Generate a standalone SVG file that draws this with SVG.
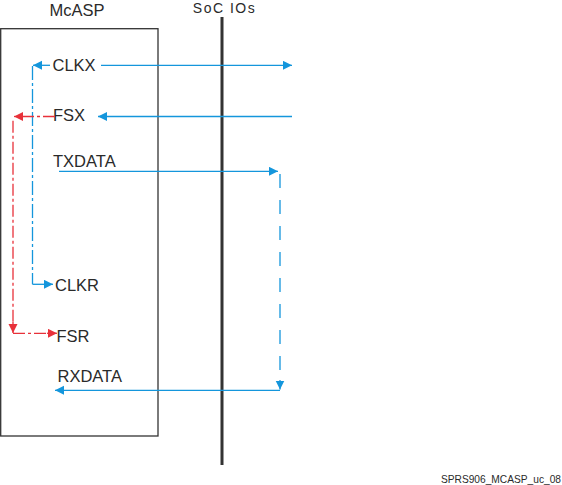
<svg xmlns="http://www.w3.org/2000/svg" width="562" height="485" viewBox="0 0 562 485">
<style>
text{font-family:"Liberation Sans",Arial,sans-serif;fill:#2a2a2a}
.lbl{font-size:16.5px}
.b{stroke:#1496dc;stroke-width:1.3;fill:none}
.r{stroke:#e8313a;stroke-width:1.3;fill:none}
.dd{stroke-dasharray:14 3 3 3}
.rd{stroke-dasharray:12 3 3 3}
.ds{stroke-dasharray:14 12}
</style>
<defs>
<marker id="ab" markerUnits="userSpaceOnUse" markerWidth="10" markerHeight="10" refX="9" refY="4.5" orient="auto"><path d="M0,0 L9,4.5 L0,9 z" fill="#1496dc"/></marker>
<marker id="ar" markerUnits="userSpaceOnUse" markerWidth="10" markerHeight="10" refX="9" refY="4.5" orient="auto"><path d="M0,0 L9,4.5 L0,9 z" fill="#e8313a"/></marker>
</defs>
<g id="mcasp">
<rect x="0.7" y="28.7" width="157.3" height="407.3" fill="none" stroke="#333" stroke-width="1.3"/>
<text class="lbl" x="77" y="15.7" text-anchor="middle">McASP</text>
</g>
<g id="soc-ios">
<line x1="222" y1="17" x2="222" y2="465" stroke="#333" stroke-width="3"/>
<text x="224.5" y="13" text-anchor="middle" font-size="14" letter-spacing="1.5">SoC IOs</text>
</g>
<g id="clkx"><text class="lbl" x="52.5" y="71">CLKX</text></g>
<g id="fsx"><text class="lbl" x="53" y="121">FSX</text></g>
<g id="txdata"><text class="lbl" x="53" y="166.7">TXDATA</text></g>
<g id="clkr"><text class="lbl" x="55" y="291">CLKR</text></g>
<g id="fsr"><text class="lbl" x="56.5" y="341.7">FSR</text></g>
<g id="rxdata"><text class="lbl" x="57.5" y="382">RXDATA</text></g>
<g id="connectors">
<line class="b" x1="101" y1="65.3" x2="292" y2="65.3" marker-end="url(#ab)"/>
<line class="b" x1="292" y1="116.5" x2="98" y2="116.5" marker-end="url(#ab)"/>
<line class="b" x1="59" y1="171.3" x2="278" y2="171.3" marker-end="url(#ab)"/>
<line class="b ds" x1="280" y1="174" x2="280" y2="384"/>
<line class="b" x1="280" y1="380" x2="280" y2="389.5" marker-end="url(#ab)"/>
<line class="b" x1="280" y1="390.3" x2="55" y2="390.3" marker-end="url(#ab)"/>
<line class="b" x1="50" y1="65.3" x2="33" y2="65.3" marker-end="url(#ab)"/>
<line class="b dd" x1="32.5" y1="66" x2="32.5" y2="284.3"/>
<line class="b" x1="32.5" y1="284.3" x2="53" y2="284.3" marker-end="url(#ab)"/>
<line class="r rd" x1="55" y1="116.5" x2="20" y2="116.5"/>
<line class="r" x1="22" y1="116.5" x2="14" y2="116.5" marker-end="url(#ar)"/>
<line class="r rd" x1="13" y1="120.7" x2="13" y2="326"/>
<line class="r" x1="13" y1="322" x2="13" y2="333" marker-end="url(#ar)"/>
<line class="r rd" x1="13" y1="333.3" x2="50" y2="333.3"/>
<line class="r" x1="47" y1="333.3" x2="57" y2="333.3" marker-end="url(#ar)"/>
</g>
<text x="561" y="483" text-anchor="end" font-size="10.2">SPRS906_MCASP_uc_08</text>
</svg>
